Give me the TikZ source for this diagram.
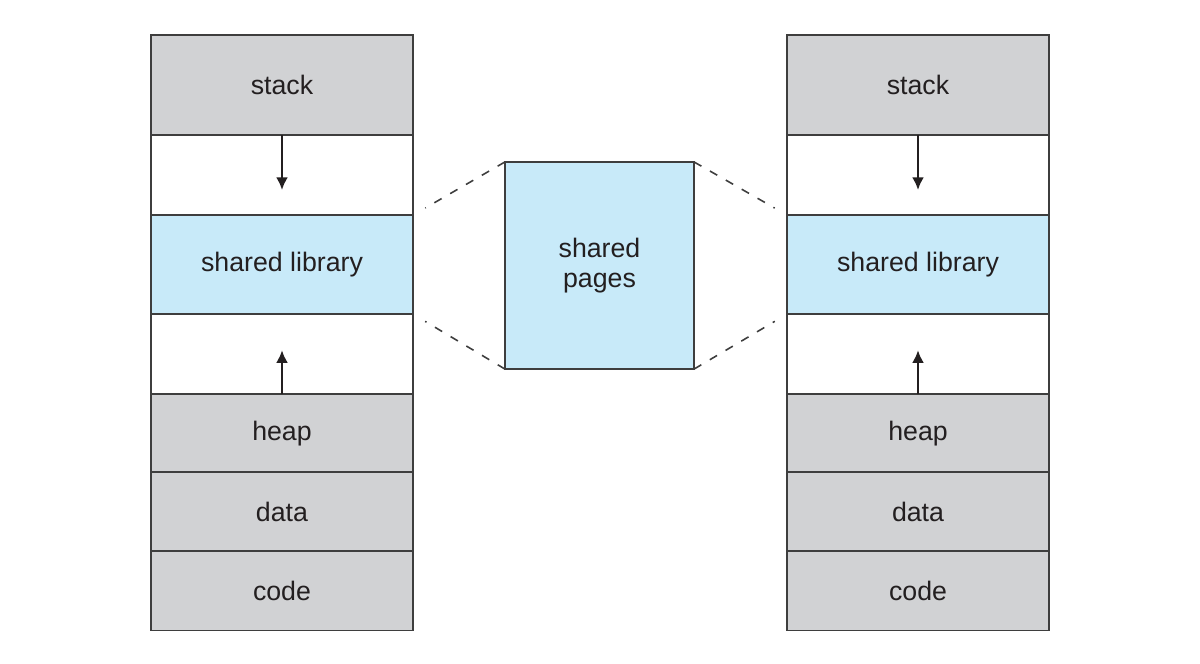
\documentclass[tikz,border=0pt]{standalone}
\usepackage{fontspec}
\setmainfont{Liberation Sans}
\usetikzlibrary{arrows.meta,positioning}

\definecolor{segGray}{RGB}{209,210,212}
\definecolor{libBlue}{RGB}{200,234,249}
\definecolor{edgeGray}{RGB}{62,62,62}
\definecolor{inkDark}{RGB}{35,31,32}

\tikzset{
  seg/.style={draw=edgeGray, line width=0.45pt, minimum width=2.62cm,
    inner sep=0pt, outer sep=0pt, text=inkDark,
    font=\fontsize{7.6}{8.3}\selectfont, align=center},
  seggray/.style={seg, fill=segGray},
  segblue/.style={seg, fill=libBlue},
  segfree/.style={seg, fill=white},
  growarrow/.style={draw=inkDark, line width=0.8pt,
    -{Latex[length=3.6pt, width=3.4pt]}},
  share/.style={draw=edgeGray, line width=0.45pt,
    dash pattern=on 2.4pt off 2.8pt, shorten >=4pt},
}

\begin{document}
\begin{tikzpicture}[x=0.01cm, y=-0.01cm]
  \useasboundingbox (0,0) rectangle (1200,663);

  %%%%% left process %%%%%
  \node[seggray, minimum height=1cm] (lstack) at (282,85) {stack};
  \node[segfree, minimum height=0.8cm, below=0pt of lstack] (lgapA) {};
  \node[segblue, minimum height=0.99cm, below=0pt of lgapA] (llib) {shared library};
  \node[segfree, minimum height=0.8cm, below=0pt of llib] (lgapB) {};
  \node[seggray, minimum height=0.78cm, below=0pt of lgapB] (lheap) {heap};
  \node[seggray, minimum height=0.79cm, below=0pt of lheap] (ldata) {data};
  \node[seggray, minimum height=0.79cm, below=0pt of ldata] (lcode) {code};

  \draw[growarrow] (lstack.south) -- ([yshift=2.5mm]lgapA.south);
  \draw[growarrow] (lheap.north) -- ([yshift=-3.6mm]lgapB.north);

  %%%%% right process %%%%%
  \node[seggray, minimum height=1cm] (rstack) at (918,85) {stack};
  \node[segfree, minimum height=0.8cm, below=0pt of rstack] (rgapA) {};
  \node[segblue, minimum height=0.99cm, below=0pt of rgapA] (rlib) {shared library};
  \node[segfree, minimum height=0.8cm, below=0pt of rlib] (rgapB) {};
  \node[seggray, minimum height=0.78cm, below=0pt of rgapB] (rheap) {heap};
  \node[seggray, minimum height=0.79cm, below=0pt of rheap] (rdata) {data};
  \node[seggray, minimum height=0.79cm, below=0pt of rdata] (rcode) {code};

  \draw[growarrow] (rstack.south) -- ([yshift=2.5mm]rgapA.south);
  \draw[growarrow] (rheap.north) -- ([yshift=-3.6mm]rgapB.north);

  %%%%% physical memory %%%%%
  \node[segblue, minimum width=1.89cm, minimum height=2.07cm] (pages)
    at (599.5,265.5) {shared\\pages};

  \draw[share] (pages.north west) -- (llib.north east);
  \draw[share] (pages.south west) -- (llib.south east);
  \draw[share] (pages.north east) -- (rlib.north west);
  \draw[share] (pages.south east) -- (rlib.south west);
\end{tikzpicture}
\end{document}
